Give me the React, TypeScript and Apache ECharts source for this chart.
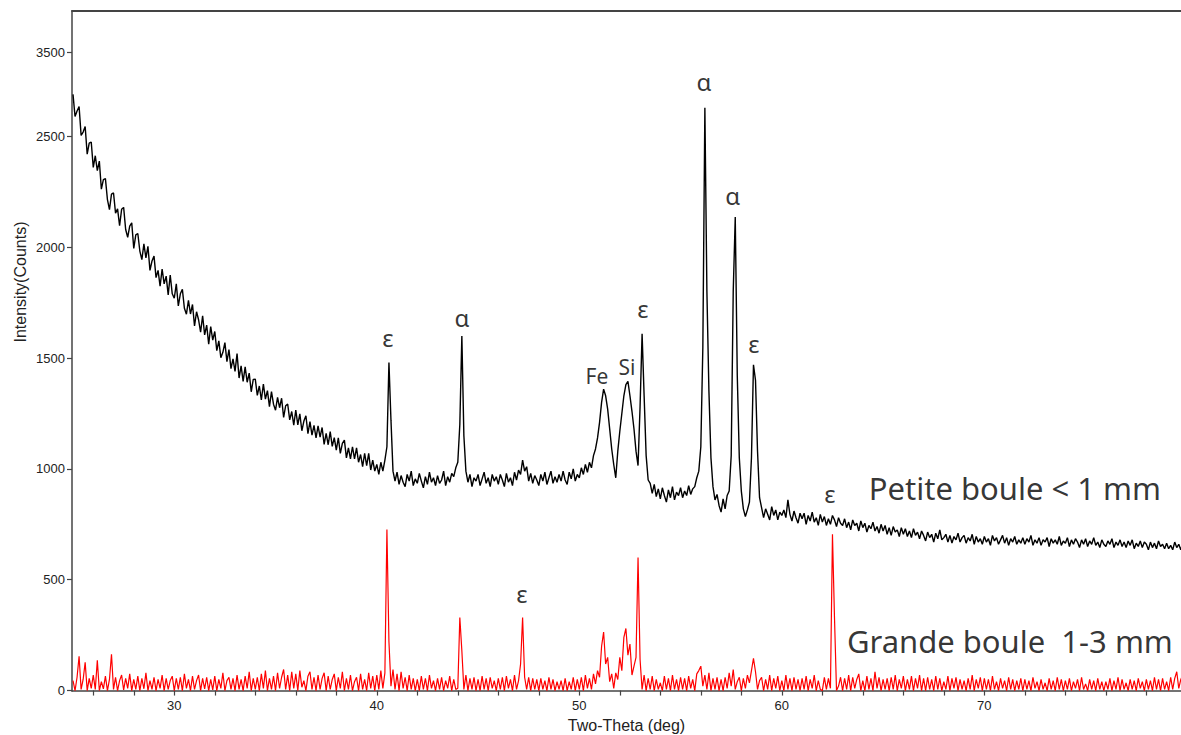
import React, { useEffect, useRef } from 'react';
import * as echarts from 'echarts';

// Scan grid (2θ, degrees): evenly stepped scan
const X_START = 25.0;
const X_STEP = 0.1;

// "Petite boule < 1 mm" intensities (counts), one row per degree (25 .. 79)
const petiteBoule = [
  2690, 2590, 2615, 2635, 2505, 2520, 2545, 2420, 2470, 2475,
  2360, 2413, 2346, 2389, 2262, 2305, 2310, 2215, 2170, 2240,
  2245, 2154, 2173, 2097, 2171, 2180, 2080, 2045, 2095, 2110,
  1995, 2056, 2062, 1983, 1944, 2015, 1952, 2004, 1896, 1938,
  1960, 1863, 1896, 1824, 1902, 1835, 1870, 1785, 1875, 1790,
  1770, 1835, 1735, 1790, 1810, 1725, 1698, 1761, 1699, 1742,
  1645, 1709, 1673, 1617, 1691, 1605, 1649, 1563, 1642, 1581,
  1620, 1534, 1578, 1502, 1526, 1570, 1484, 1538, 1452, 1496,
  1440, 1520, 1410, 1465, 1395, 1460, 1391, 1432, 1348, 1404,
  1405, 1332, 1374, 1311, 1383, 1315, 1353, 1281, 1349, 1292,
  1265, 1323, 1276, 1319, 1232, 1285, 1293, 1221, 1259, 1197,
  1265, 1199, 1248, 1172, 1216, 1240, 1159, 1213, 1152, 1196,
  1140, 1194, 1143, 1187, 1111, 1160, 1109, 1168, 1102, 1141,
  1085, 1140, 1070, 1115, 1130, 1050, 1095, 1045, 1100, 1045,
  1095, 1030, 1065, 1010, 1070, 1015, 1070, 995, 1040, 990,
  1020, 975, 1030, 990, 1040, 1100, 1480, 1220, 990, 945,
  985, 930, 970, 940, 920, 975, 945, 990, 925, 955,
  935, 980, 945, 915, 965, 930, 985, 940, 960, 925,
  970, 935, 950, 990, 925, 965, 940, 980, 965, 1005,
  1030, 1200, 1600, 1150, 990, 940, 975, 920, 960, 945,
  975, 925, 955, 985, 935, 960, 920, 975, 945, 965,
  930, 975, 950, 920, 980, 940, 960, 925, 985, 950,
  995, 975, 1040, 990, 1010, 945, 980, 935, 970, 950,
  925, 975, 945, 985, 930, 960, 990, 935, 965, 940,
  975, 945, 990, 950, 930, 985, 955, 1000, 945, 975,
  960, 1005, 975, 1020, 985, 1030, 1005, 1060, 1090, 1140,
  1210, 1300, 1360, 1330, 1270, 1180, 1090, 1020, 960, 1080,
  1170, 1250, 1330, 1380, 1395, 1330, 1260, 1180, 1080, 1015,
  1280, 1610, 1330, 1060, 950, 935, 890, 930, 875, 910,
  865, 915, 880, 850, 905, 870, 920, 860, 895, 880,
  915, 870, 900, 880, 925, 885, 910, 920, 960, 990,
  1100, 1550, 2630, 1800, 1350, 1050, 920, 860, 885, 835,
  805, 865, 820, 880, 900, 1060, 1800, 2136, 1420, 1050,
  900, 820, 785, 815, 850, 1050, 1470, 1400, 1080, 870,
  825, 780, 820, 795, 770, 830, 790, 815, 770, 805,
  790, 815, 780, 860, 795, 765, 810, 780, 755, 800,
  775, 800, 750, 790, 765, 805, 760, 780, 745, 795,
  760, 785, 745, 775, 750, 790, 770, 740, 780, 755,
  745, 775, 735, 760, 725, 770, 745, 755, 720, 765,
  735, 755, 715, 745, 730, 760, 720, 740, 710, 750,
  720, 745, 705, 735, 700, 740, 715, 725, 695, 735,
  705, 730, 695, 720, 690, 730, 700, 715, 685, 720,
  700, 675, 715, 690, 705, 670, 710, 685, 725, 680,
  690, 705, 670, 700, 665, 695, 680, 710, 670, 690,
  700, 665, 690, 675, 705, 660, 695, 670, 685, 660,
  695, 670, 685, 655, 700, 675, 690, 660, 680, 700,
  665, 690, 655, 685, 670, 695, 660, 680, 665, 690,
  660, 685, 670, 700, 655, 680, 665, 690, 655, 680,
  670, 690, 650, 685, 665, 680, 660, 695, 655, 675,
  665, 690, 650, 680, 660, 685, 670, 645, 680, 660,
  685, 650, 675, 660, 690, 655, 670, 645, 680, 660,
  650, 675, 660, 685, 645, 670, 655, 680, 650, 670,
  645, 675, 655, 680, 640, 665, 650, 675, 645, 670,
  660, 635, 670, 645, 665, 640, 675, 650, 660, 640,
  665, 640, 655, 635, 670, 645, 660, 635, 665, 650,
];

// "Grande boule 1-3 mm" intensities (counts), one row per degree (25 .. 79)
const grandeBoule = [
  45, 0, 60, 155, 5, 50, 127, 0, 55, 10,
  70, 5, 136, 0, 40, 8, 65, 0, 50, 164,
  5, 60, 0, 45, 70, 3, 55, 10, 75, 0,
  50, 5, 65, 0, 55, 8, 80, 0, 45, 5,
  60, 0, 50, 10, 70, 0, 55, 5, 45, 65,
  0, 55, 5, 60, 0, 75, 10, 50, 0, 65,
  5, 45, 70, 0, 55, 8, 60, 0, 50, 3,
  65, 0, 50, 10, 80, 0, 45, 60, 5, 55,
  0, 70, 5, 50, 0, 65, 10, 85, 0, 55,
  5, 60, 0, 75, 10, 90, 0, 55, 5, 65,
  0, 80, 10, 60, 95, 5, 70, 0, 85, 10,
  75, 0, 90, 15, 45, 0, 65, 85, 5, 60,
  0, 70, 5, 55, 80, 0, 65, 5, 50, 75,
  0, 60, 10, 85, 0, 55, 5, 70, 0, 40,
  60, 0, 75, 5, 50, 0, 80, 10, 65, 0,
  70, 5, 90, 10, 80, 727, 220, 20, 95, 5,
  75, 0, 85, 10, 60, 0, 70, 5, 55, 0,
  50, 0, 65, 5, 55, 0, 70, 10, 45, 0,
  55, 5, 60, 0, 45, 10, 65, 0, 50, 5,
  10, 330, 180, 5, 70, 0, 55, 5, 60, 0,
  50, 0, 65, 5, 55, 0, 60, 10, 45, 0,
  55, 5, 60, 0, 65, 10, 50, 0, 70, 5,
  45, 120, 330, 60, 5, 60, 0, 55, 5, 50,
  0, 55, 5, 45, 0, 60, 5, 50, 0, 40,
  5, 45, 0, 55, 0, 40, 5, 60, 0, 50,
  5, 60, 0, 70, 10, 55, 5, 75, 30, 90,
  60, 200, 264, 120, 150, 40, 75, 10, 80, 50,
  150, 90, 240, 280, 160, 210, 70, 110, 150, 600,
  140, 5, 70, 0, 55, 5, 65, 0, 50, 5,
  35, 0, 65, 5, 55, 0, 70, 5, 50, 0,
  60, 5, 55, 0, 65, 10, 50, 0, 75, 90,
  110, 20, 70, 5, 80, 0, 55, 5, 60, 0,
  50, 0, 60, 10, 80, 20, 95, 5, 40, 60,
  0, 55, 10, 70, 35, 90, 145, 85, 5, 45,
  60, 0, 50, 5, 70, 0, 55, 10, 65, 0,
  45, 0, 70, 5, 55, 0, 60, 5, 50, 0,
  55, 5, 65, 0, 50, 10, 70, 0, 45, 5,
  0, 60, 5, 55, 10, 705, 330, 0, 20, 60,
  0, 55, 5, 70, 0, 60, 10, 50, 75, 0,
  45, 0, 65, 5, 55, 0, 85, 10, 60, 0,
  50, 5, 55, 0, 60, 5, 70, 0, 50, 10,
  65, 0, 50, 5, 65, 0, 55, 10, 70, 0,
  55, 0, 60, 5, 50, 0, 65, 5, 55, 0,
  40, 5, 65, 0, 55, 10, 60, 0, 50, 5,
  45, 0, 55, 5, 70, 0, 50, 10, 60, 0,
  55, 5, 50, 0, 65, 5, 40, 0, 55, 10,
  45, 0, 60, 5, 50, 0, 45, 5, 55, 0,
  50, 5, 45, 0, 60, 10, 40, 0, 50, 5,
  35, 0, 55, 5, 45, 0, 60, 5, 50, 0,
  45, 5, 55, 0, 40, 10, 50, 0, 60, 5,
  30, 0, 50, 5, 45, 0, 55, 5, 40, 0,
  40, 5, 55, 0, 45, 5, 60, 0, 50, 5,
  35, 0, 50, 5, 45, 0, 55, 10, 40, 0,
  50, 5, 45, 0, 60, 5, 50, 0, 55, 5,
  40, 0, 60, 5, 55, 85, 10, 50, 70, 5,
];

const xMin = 24.95;
const xMax = 79.71;
const xTickValues = [26, 28, 30, 32, 34, 36, 38, 40, 42, 44, 46, 48, 50, 52, 54, 56, 58, 60, 62, 64, 66, 68, 70, 72, 74, 76, 78];
const xLabelValues = [30, 40, 50, 60, 70];

const yMin = -2;
const yMax = 3066;
const yTickValues = [0, 500, 1000, 1500, 2000, 2500, 2880];
const yTickLabels = ['0', '500', '1000', '1500', '2000', '2500', '3500'];

// Peak / phase annotations, placed in data coordinates (2θ, counts)
const annotationTexts = ['ε', 'α', 'Fe', 'Si', 'ε', 'α', 'α', 'ε', 'ε', 'ε', 'Petite boule < 1 mm', 'Grande boule  1-3 mm'];
const annotationX = [40.55, 44.21, 50.87, 52.35, 53.14, 56.15, 57.58, 58.62, 62.37, 47.16, 71.51, 71.26];
const annotationY = [1592, 1682, 1420, 1461, 1722, 2747, 2233, 1565, 888, 437, 913, 223];
const annotationSize = [24, 24, 21, 21, 24, 24, 24, 24, 24, 24, 31, 31];

const AXIS_COLOR = '#444';
const LABEL_FONT = '"Liberation Sans", Arial, sans-serif';

export default function App() {
  const ref = useRef<HTMLDivElement>(null);

  useEffect(() => {
    if (!ref.current) return;
    const chart = echarts.init(ref.current, undefined, { renderer: 'svg' });

    const petiteData = petiteBoule.map((v, i) => [Number((X_START + i * X_STEP).toFixed(2)), v]);
    const grandeData = grandeBoule.map((v, i) => [Number((X_START + i * X_STEP).toFixed(2)), v]);

    const annData = annotationTexts.map((t, i) => ({
      name: t,
      value: [annotationX[i], annotationY[i]],
      label: { fontSize: annotationSize[i] },
    }));

    chart.setOption({
      animation: false,
      backgroundColor: '#fff',
      grid: { left: 72, right: 0, top: 11, bottom: 44, containLabel: false, outerBoundsMode: 'none' },
      xAxis: [
        {
          type: 'value',
          min: xMin,
          max: xMax,
          name: 'Two-Theta (deg)',
          nameLocation: 'middle',
          nameGap: 26,
          nameTextStyle: { fontFamily: LABEL_FONT, fontSize: 16, color: '#222' },
          axisLine: { show: true, lineStyle: { color: AXIS_COLOR, width: 1.5 } },
          axisTick: { show: true, customValues: xTickValues, length: 5, lineStyle: { color: AXIS_COLOR, width: 1.2 } },
          axisLabel: {
            show: true,
            customValues: xLabelValues,
            margin: 8,
            fontFamily: LABEL_FONT,
            fontSize: 13,
            color: '#222',
            formatter: (v: number) => String(v),
          },
          splitLine: { show: false },
        },
        {
          type: 'value',
          position: 'top',
          min: xMin,
          max: xMax,
          axisLine: { show: true, onZero: false, lineStyle: { color: AXIS_COLOR, width: 2 } },
          axisTick: { show: false },
          axisLabel: { show: false },
          splitLine: { show: false },
        },
      ],
      yAxis: {
        type: 'value',
        min: yMin,
        max: yMax,
        axisLine: { show: true, onZero: false, lineStyle: { color: AXIS_COLOR, width: 1.5 } },
        axisTick: { show: true, customValues: yTickValues, length: 5, lineStyle: { color: AXIS_COLOR, width: 1.2 } },
        axisLabel: {
          show: true,
          customValues: yTickValues,
          margin: 7,
          fontFamily: LABEL_FONT,
          fontSize: 13,
          color: '#222',
          formatter: (v: number) => {
            const i = yTickValues.indexOf(v);
            return i >= 0 ? yTickLabels[i] : '';
          },
        },
        splitLine: { show: false },
      },
      graphic: [
        {
          type: 'text',
          x: 20,
          y: 282,
          rotation: Math.PI / 2,
          style: {
            text: 'Intensity(Counts)',
            fontFamily: LABEL_FONT,
            fontSize: 16,
            fill: '#222',
            align: 'center',
            verticalAlign: 'middle',
          },
        },
      ],
      series: [
        {
          name: 'Petite boule < 1 mm',
          type: 'line',
          xAxisIndex: 0,
          data: petiteData,
          showSymbol: false,
          symbol: 'none',
          lineStyle: { color: '#000', width: 1.4 },
          z: 2,
        },
        {
          name: 'Grande boule 1-3 mm',
          type: 'line',
          xAxisIndex: 0,
          data: grandeData,
          showSymbol: false,
          symbol: 'none',
          lineStyle: { color: '#ff0000', width: 1.2 },
          z: 3,
        },
        {
          name: 'annotations',
          type: 'scatter',
          xAxisIndex: 0,
          data: annData,
          symbolSize: 1,
          itemStyle: { color: 'transparent' },
          silent: true,
          z: 5,
          label: {
            show: true,
            position: 'inside',
            formatter: '{b}',
            color: '#000',
            fontFamily: '"Noto Sans", "Open Sans", sans-serif',
          },
        },
      ],
    });

    return () => chart.dispose();
  }, []);

  return <div ref={ref} style={{ position: 'fixed', left: 0, top: 0, width: 1181, height: 735 }} />;
}
